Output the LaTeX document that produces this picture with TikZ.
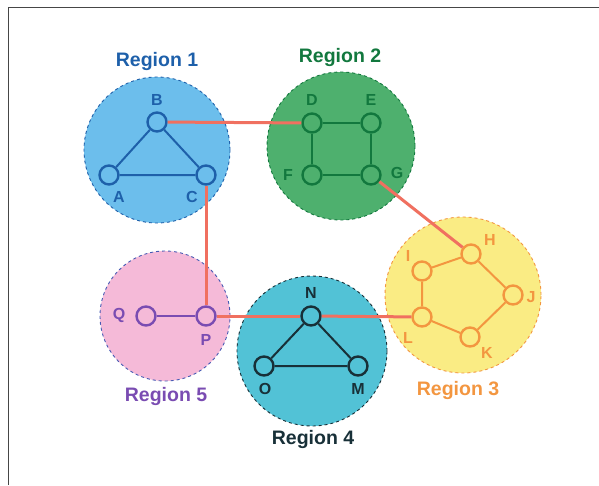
\documentclass[tikz,border=0pt]{standalone}
\usepackage{fontspec}
\setmainfont{Liberation Sans}
\begin{document}
\begin{tikzpicture}[x=1pt,y=-1pt,
  region/.style={circle, dashed, line width=0.9pt, minimum size=#1, inner sep=0pt},
  vtx/.style={circle, line width=2.4pt, minimum size=19pt, inner sep=0pt},
  vlabel/.style={font=\fontsize{16}{16}\selectfont\bfseries, inner sep=0pt},
  rlabel/.style={font=\fontsize{19.5}{19.5}\selectfont\bfseries, inner sep=0pt},
  inner/.style={line width=2pt},
  bridge/.style={line width=3pt, draw=bridgecol}
]
\definecolor{bridgecol}{RGB}{240,112,96}
\definecolor{ronefill}{RGB}{108,190,236}
\definecolor{ronedraw}{RGB}{30,96,170}
\definecolor{rtwofill}{RGB}{78,176,110}
\definecolor{rtwodraw}{RGB}{18,120,62}
\definecolor{rthreefill}{RGB}{250,236,132}
\definecolor{rthreedraw}{RGB}{243,150,64}
\definecolor{rfourfill}{RGB}{82,194,214}
\definecolor{rfourdraw}{RGB}{24,48,56}
\definecolor{rfivefill}{RGB}{245,186,216}
\definecolor{rfivedraw}{RGB}{122,76,178}
\definecolor{rfiveborder}{RGB}{70,90,180}
\definecolor{framecol}{RGB}{70,70,70}

\useasboundingbox (0,0) rectangle (599,485);
\fill[white] (0,0) rectangle (599,485);
% frame
\coordinate (f1) at (8.5,485);
\coordinate (f2) at (8.5,7.5);
\coordinate (f3) at (599,7.5);
\draw[framecol, line width=1.8pt] (f1) -- (f2) -- (f3);

% regions
\node[region=146pt, fill=ronefill, draw=ronedraw] (R1) at (157,150) {};
\node[region=148pt, fill=rtwofill, draw=rtwodraw] (R2) at (341,146) {};
\node[region=156pt, fill=rthreefill, draw=rthreedraw] (R3) at (463,295) {};
\node[region=150pt, fill=rfourfill, draw=rfourdraw] (R4) at (312,351) {};
\node[region=130pt, fill=rfivefill, draw=rfiveborder] (R5) at (165,316) {};

% region titles
\node[rlabel, text=ronedraw] (T1) at (157,61) {Region 1};
\node[rlabel, text=rtwodraw] (T2) at (340,57) {Region 2};
\node[rlabel, text=rthreedraw] (T3) at (458,390) {Region 3};
\node[rlabel, text=rfourdraw] (T4) at (313,439) {Region 4};
\node[rlabel, text=rfivedraw] (T5) at (166,396) {Region 5};

% vertices
\node[vtx, draw=ronedraw, fill=ronefill] (B) at (157,122) {};
\node[vtx, draw=ronedraw, fill=ronefill] (A) at (109,175) {};
\node[vtx, draw=ronedraw, fill=ronefill] (C) at (206,175) {};
\node[vtx, draw=rtwodraw, fill=rtwofill] (D) at (312,123) {};
\node[vtx, draw=rtwodraw, fill=rtwofill] (E) at (371,123) {};
\node[vtx, draw=rtwodraw, fill=rtwofill] (F) at (312,175) {};
\node[vtx, draw=rtwodraw, fill=rtwofill] (G) at (371,175) {};
\node[vtx, draw=rthreedraw, fill=rthreefill] (H) at (471,254) {};
\node[vtx, draw=rthreedraw, fill=rthreefill] (I) at (422,271) {};
\node[vtx, draw=rthreedraw, fill=rthreefill] (J) at (513,295) {};
\node[vtx, draw=rthreedraw, fill=rthreefill] (K) at (470,337) {};
\node[vtx, draw=rthreedraw, fill=rthreefill] (L) at (422,317) {};
\node[vtx, draw=rfourdraw, fill=rfourfill] (N) at (311,316) {};
\node[vtx, draw=rfourdraw, fill=rfourfill] (O) at (264,366) {};
\node[vtx, draw=rfourdraw, fill=rfourfill] (M) at (358,366) {};
\node[vtx, draw=rfivedraw, fill=rfivefill] (Q) at (146,316) {};
\node[vtx, draw=rfivedraw, fill=rfivefill] (P) at (206,316) {};

% edges inside regions
\draw[inner, ronedraw] (B) -- (A) (A) -- (C) (C) -- (B);
\draw[inner, rtwodraw] (D) -- (E) (E) -- (G) (G) -- (F) (F) -- (D);
\draw[inner, rthreedraw] (H) -- (J) (J) -- (K) (K) -- (L) (L) -- (I) (I) -- (H);
\draw[inner, rfourdraw] (N) -- (O) (O) -- (M) (M) -- (N);
\draw[inner, rfivedraw] (Q) -- (P);

% edges between regions
\draw[bridge] (B) -- (D);
\draw[bridge] (C) -- (P);
\draw[bridge] (P) -- (N);
\draw[bridge] (N) -- (L);
\draw[bridge] (G) -- (H);

% vertex letters
\node[vlabel, text=ronedraw] (lB) at (157,100) {B};
\node[vlabel, text=ronedraw] (lA) at (119,197) {A};
\node[vlabel, text=ronedraw] (lC) at (192,197) {C};
\node[vlabel, text=rtwodraw] (lD) at (312,100) {D};
\node[vlabel, text=rtwodraw] (lE) at (371,100) {E};
\node[vlabel, text=rtwodraw] (lF) at (288,175) {F};
\node[vlabel, text=rtwodraw] (lG) at (397,173) {G};
\node[vlabel, text=rthreedraw] (lH) at (490,240) {H};
\node[vlabel, text=rthreedraw] (lI) at (408,256) {I};
\node[vlabel, text=rthreedraw] (lJ) at (531,297) {J};
\node[vlabel, text=rthreedraw] (lK) at (487,353) {K};
\node[vlabel, text=rthreedraw] (lL) at (408,338) {L};
\node[vlabel, text=rfourdraw] (lN) at (311,293) {N};
\node[vlabel, text=rfourdraw] (lO) at (265,389) {O};
\node[vlabel, text=rfourdraw] (lM) at (358,389) {M};
\node[vlabel, text=rfivedraw] (lQ) at (119,315) {Q};
\node[vlabel, text=rfivedraw] (lP) at (206,340) {P};
\end{tikzpicture}
\end{document}
